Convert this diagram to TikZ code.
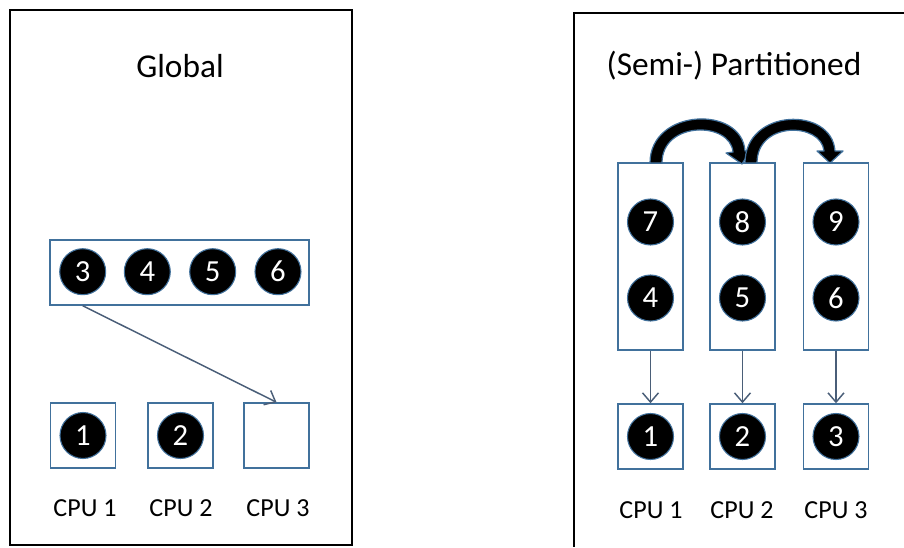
\documentclass[tikz,border=0pt]{standalone}
\usepackage{fontspec}
\setmainfont{Carlito}
\usetikzlibrary{arrows.meta}
\definecolor{boxblue}{HTML}{41719C}
\definecolor{connblue}{HTML}{4A5E78}
\tikzset{
  frame/.style={draw=black, line width=1.5pt},
  box/.style={draw=boxblue, line width=1.1pt, fill=white, inner sep=0pt},
  cpubox/.style={box, minimum width=48.75pt, minimum height=48.75pt},
  colbox/.style={box, minimum width=48.75pt, minimum height=140.25pt},
  job/.style={circle, fill=black, draw=boxblue, line width=0.8pt, minimum size=34.5pt,
              inner sep=0pt, text=white, font=\fontsize{23}{23}\selectfont},
  title/.style={font=\fontsize{25}{25}\selectfont},
  cpulabel/.style={font=\fontsize{19.5}{19.5}\selectfont},
  conn/.style={draw=connblue, line width=1.1pt, -{Straight Barb[length=7pt,width=12pt]}},
  blockarrow/.style={fill=black, draw=boxblue, line width=0.9pt, line join=round}
}
\begin{document}
\begin{tikzpicture}[x=0.75pt,y=-0.75pt]
\useasboundingbox (0,0) rectangle (904,547);

% ---- Global scheduling ----
\draw[frame] (9.5,9.5) rectangle (352,545);
\node[title] (gtitle) at (180,66) {Global};

\node[box, minimum width=194.25pt, minimum height=48.75pt] (q) at (179.5,272.5) {};
\node[job] (c3) at (82.7,271.7) {3};
\node[job] (c4) at (147.3,271.7) {4};
\node[job] (c5) at (212.7,271.7) {5};
\node[job] (c6) at (278,271.7) {6};

\node[cpubox] (g1) at (83,435.5) {};
\node[cpubox] (g2) at (180.5,435.5) {};
\node[cpubox] (g3) at (276.5,435.5) {};
\node[job] (g1j) at (g1) {1};
\node[job] (g2j) at (g2) {2};

\node[cpulabel] (gl1) at (85,508) {CPU 1};
\node[cpulabel] (gl2) at (181,508) {CPU 2};
\node[cpulabel] (gl3) at (278,508) {CPU 3};

\draw[conn] (c3 |- q.south) -- (g3.north);

% ---- (Semi-) partitioned scheduling ----
\draw[frame] (904,12.7) -- (574,12.7) -- (574,547);
\node[title] (ptitle) at (734,66) {(Semi-) Partitioned};

\node[colbox] (col1) at (650.5,256.5) {};
\node[colbox] (col2) at (742.5,256.5) {};
\node[colbox] (col3) at (836,256.5) {};

\node[job] (j7) at (650.5,222) {7};
\node[job] (j4) at (650.5,298) {4};
\node[job] (j8) at (742.5,222) {8};
\node[job] (j5) at (742.5,298) {5};
\node[job] (j9) at (836,222) {9};
\node[job] (j6) at (836,298) {6};

\node[cpubox] (p1) at (650.5,436.5) {};
\node[cpubox] (p2) at (742.5,436.5) {};
\node[cpubox] (p3) at (836,436.5) {};
\node[job] (p1j) at (p1) {1};
\node[job] (p2j) at (p2) {2};
\node[job] (p3j) at (p3) {3};

\node[cpulabel] (pl1) at (651,510) {CPU 1};
\node[cpulabel] (pl2) at (742,510) {CPU 2};
\node[cpulabel] (pl3) at (836,510) {CPU 3};

\draw[conn] (col1.south) -- (p1.north);
\draw[conn] (col2.south) -- (p2.north);
\draw[conn] (col3.south) -- (p3.north);

% migration arrows over the column tops
\draw[blockarrow] (650,163) .. controls (650,108) and (742,105) .. (745,151)
  -- (750,151) -- (742,164) -- (726,153) -- (733,152)
  .. controls (730,121) and (662,121) .. (662,163) -- cycle;
\draw[blockarrow] (745,163) .. controls (745,108) and (832,106) .. (835,151)
  -- (843,151) -- (830,163) -- (817,151) -- (824,151)
  .. controls (821,122) and (757,121) .. (757,163) -- cycle;
\end{tikzpicture}
\end{document}
